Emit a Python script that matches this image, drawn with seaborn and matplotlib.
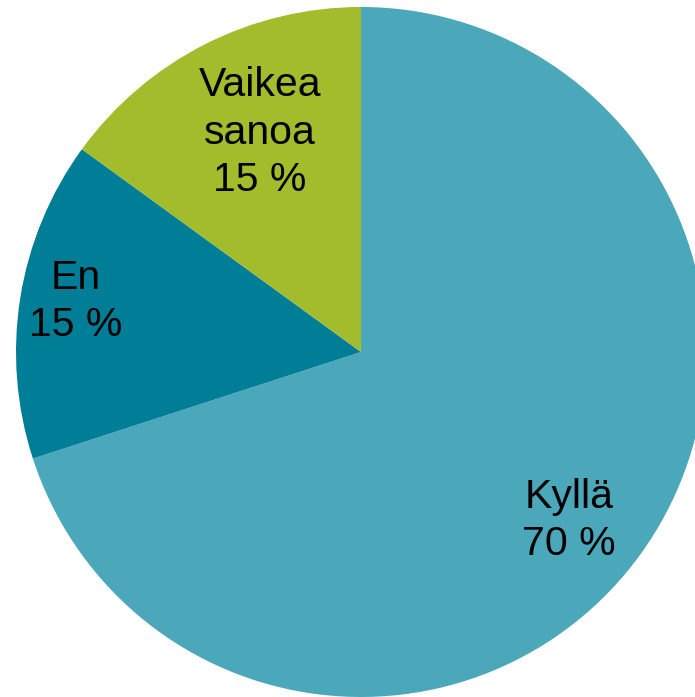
import matplotlib
matplotlib.use("Agg")
import matplotlib.pyplot as plt
import seaborn as sns
import numpy as np

# chart data
categories = ["Kyllä", "En", "Vaikea\nsanoa"]
shares = [70, 15, 15]
colors = ["#4BA7BA", "#007E98", "#A2BC2C"]

# where each label sits (radius as fraction of pie radius, angle in degrees)
label_pos = [(0.776, -39.0), (0.84, 170.0), (0.70, 114.8)]

sns.set_theme(style="white")
plt.rcParams["font.family"] = ["Liberation Sans", "DejaVu Sans"]

fig = plt.figure(figsize=(6.95, 6.97), dpi=100)
ax = fig.add_axes([0, 0, 1, 1])

ax.pie(shares, colors=colors, startangle=90, counterclock=False,
       radius=1.0, wedgeprops={"linewidth": 0})

for cat, val, (r, ang) in zip(categories, shares, label_pos):
    x = r * np.cos(np.radians(ang))
    y = r * np.sin(np.radians(ang))
    ax.text(x, y, f"{cat}\n{val} %", ha="center", va="center",
            fontsize=29.5, color="black", linespacing=1.31)

ax.set_xlim(-361 / 345, (695 - 361) / 345)
ax.set_ylim(-(697 - 352) / 345, 352 / 345)
ax.set_aspect("equal")
ax.axis("off")

fig.savefig("out.png", dpi=100, facecolor="white")
